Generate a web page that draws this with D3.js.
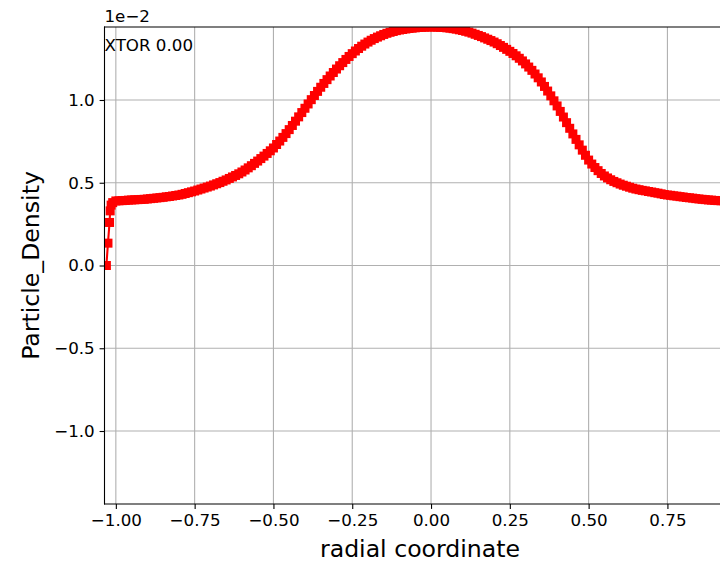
<!DOCTYPE html>
<html>
<head>
<meta charset="utf-8">
<script src="https://cdn.jsdelivr.net/npm/d3@7"></script>
<style>
  body { margin: 0; background: #ffffff; }
  svg { display: block; font-family: "DejaVu Sans", sans-serif; }
</style>
</head>
<body>
<div id="div1"></div>
<script>
//Datos (densidad en unidades de 1e-2)
var radio = [
  -1.030, -1.025, -1.020, -1.018, -1.015, -1.010,
  -1.00, -0.99, -0.98, -0.97, -0.96, -0.95, -0.94, -0.93, -0.92, -0.91,
  -0.90, -0.89, -0.88, -0.87, -0.86, -0.85, -0.84, -0.83, -0.82, -0.81,
  -0.80, -0.79, -0.78, -0.77, -0.76, -0.75, -0.74, -0.73, -0.72, -0.71,
  -0.70, -0.69, -0.68, -0.67, -0.66, -0.65, -0.64, -0.63, -0.62, -0.61,
  -0.60, -0.59, -0.58, -0.57, -0.56, -0.55, -0.54, -0.53, -0.52, -0.51,
  -0.50, -0.49, -0.48, -0.47, -0.46, -0.45, -0.44, -0.43, -0.42, -0.41,
  -0.40, -0.39, -0.38, -0.37, -0.36, -0.35, -0.34, -0.33, -0.32, -0.31,
  -0.30, -0.29, -0.28, -0.27, -0.26, -0.25, -0.24, -0.23, -0.22, -0.21,
  -0.20, -0.19, -0.18, -0.17, -0.16, -0.15, -0.14, -0.13, -0.12, -0.11,
  -0.10, -0.09, -0.08, -0.07, -0.06, -0.05, -0.04, -0.03, -0.02, -0.01,
  0.00, 0.01, 0.02, 0.03, 0.04, 0.05, 0.06, 0.07, 0.08, 0.09,
  0.10, 0.11, 0.12, 0.13, 0.14, 0.15, 0.16, 0.17, 0.18, 0.19,
  0.20, 0.21, 0.22, 0.23, 0.24, 0.25, 0.26, 0.27, 0.28, 0.29,
  0.30, 0.31, 0.32, 0.33, 0.34, 0.35, 0.36, 0.37, 0.38, 0.39,
  0.40, 0.41, 0.42, 0.43, 0.44, 0.45, 0.46, 0.47, 0.48, 0.49,
  0.50, 0.51, 0.52, 0.53, 0.54, 0.55, 0.56, 0.57, 0.58, 0.59,
  0.60, 0.61, 0.62, 0.63, 0.64, 0.65, 0.66, 0.67, 0.68, 0.69,
  0.70, 0.71, 0.72, 0.73, 0.74, 0.75, 0.76, 0.77, 0.78, 0.79,
  0.80, 0.81, 0.82, 0.83, 0.84, 0.85, 0.86, 0.87, 0.88, 0.89,
  0.90, 0.91, 0.92, 0.93, 0.94, 0.95, 0.96
]
var densidad = [
  0.000, 0.135, 0.260, 0.330, 0.365, 0.380,
  0.390, 0.391, 0.392, 0.393, 0.395, 0.396, 0.397, 0.398, 0.399, 0.400,
  0.402, 0.404, 0.406, 0.408, 0.410, 0.412, 0.415, 0.417, 0.420, 0.423,
  0.426, 0.430, 0.435, 0.440, 0.445, 0.450, 0.456, 0.462, 0.468, 0.474,
  0.480, 0.487, 0.494, 0.501, 0.509, 0.517, 0.526, 0.535, 0.544, 0.554,
  0.565, 0.577, 0.590, 0.603, 0.617, 0.631, 0.646, 0.661, 0.677, 0.693,
  0.710, 0.731, 0.752, 0.774, 0.797, 0.821, 0.846, 0.872, 0.898, 0.924,
  0.950, 0.976, 1.002, 1.027, 1.052, 1.077, 1.100, 1.123, 1.145, 1.166,
  1.187, 1.207, 1.226, 1.245, 1.263, 1.280, 1.296, 1.311, 1.325, 1.338,
  1.350, 1.361, 1.371, 1.380, 1.388, 1.396, 1.403, 1.409, 1.414, 1.419,
  1.423, 1.426, 1.429, 1.432, 1.434, 1.436, 1.438, 1.439, 1.440, 1.441,
  1.441, 1.441, 1.440, 1.439, 1.438, 1.436, 1.434, 1.431, 1.428, 1.424,
  1.420, 1.415, 1.410, 1.404, 1.397, 1.390, 1.383, 1.375, 1.367, 1.359,
  1.350, 1.340, 1.329, 1.318, 1.306, 1.294, 1.281, 1.267, 1.252, 1.236,
  1.218, 1.199, 1.179, 1.157, 1.134, 1.109, 1.082, 1.054, 1.025, 0.995,
  0.964, 0.931, 0.897, 0.863, 0.829, 0.795, 0.762, 0.729, 0.697, 0.666,
  0.637, 0.613, 0.592, 0.573, 0.556, 0.541, 0.529, 0.518, 0.508, 0.500,
  0.492, 0.485, 0.479, 0.473, 0.467, 0.462, 0.458, 0.454, 0.451, 0.447,
  0.444, 0.440, 0.437, 0.433, 0.429, 0.426, 0.424, 0.421, 0.419, 0.416,
  0.414, 0.411, 0.409, 0.407, 0.404, 0.402, 0.400, 0.398, 0.396, 0.395,
  0.393, 0.392, 0.391, 0.390, 0.390, 0.389, 0.389
]
var ticksX = [-1.00, -0.75, -0.50, -0.25, 0.00, 0.25, 0.50, 0.75]
var ticksY = [-1.0, -0.5, 0.0, 0.5, 1.0]
var tituloX = "radial coordinate"
var tituloY = "Particle_Density"
var textoOffset = "1e\u22122"
var textoTiempo = "XTOR 0.00"

//Crea Lienzo
var width = 720
var height = 562
var izq = 104.5, der = 735.5, arriba = 27, abajo = 504

var svg = d3.select("#div1")
            .append("svg")
            .attr("width", width)
            .attr("height", height)

//Escalas
var x = d3.scaleLinear()
          .domain([-1.036, 0.966])
          .range([izq, der])
var y = d3.scaleLinear()
          .domain([-1.441, 1.441])
          .range([abajo, arriba])

svg.append("clipPath")
   .attr("id", "zona")
   .append("rect")
   .attr("x", izq)
   .attr("y", arriba)
   .attr("width", der - izq)
   .attr("height", abajo - arriba)

//Rejilla
svg.append("g")
   .selectAll("line")
   .data(ticksX)
   .enter()
   .append("line")
   .attr("x1", d => x(d)).attr("x2", d => x(d))
   .attr("y1", arriba).attr("y2", abajo)
   .attr("stroke", "#b0b0b0")
   .attr("stroke-width", 1.1)
svg.append("g")
   .selectAll("line")
   .data(ticksY)
   .enter()
   .append("line")
   .attr("x1", izq).attr("x2", der)
   .attr("y1", d => y(d)).attr("y2", d => y(d))
   .attr("stroke", "#b0b0b0")
   .attr("stroke-width", 1.1)

//Pinta la curva
var puntos = radio.map((r, i) => [r, densidad[i]])
var capa = svg.append("g").attr("clip-path", "url(#zona)")

capa.append("path")
    .datum(puntos)
    .attr("d", d3.line().x(d => x(d[0])).y(d => y(d[1])))
    .attr("fill", "none")
    .attr("stroke", "#ff0000")
    .attr("stroke-width", 2.1)

var lado = 9
capa.selectAll("rect")
    .data(puntos)
    .enter()
    .append("rect")
    .attr("x", d => x(d[0]) - lado / 2)
    .attr("y", d => y(d[1]) - lado / 2)
    .attr("width", lado)
    .attr("height", lado)
    .attr("fill", "#ff0000")

//Ejes
var ejeX = d3.axisBottom(x)
             .tickValues(ticksX)
             .tickFormat(d3.format(".2f"))
             .tickSize(4.9)
             .tickPadding(4.9)
var ejeY = d3.axisLeft(y)
             .tickValues(ticksY)
             .tickFormat(d3.format(".1f"))
             .tickSize(4.9)
             .tickPadding(4.9)

svg.append("g")
   .attr("transform", `translate(0,${abajo})`)
   .call(ejeX)
svg.append("g")
   .attr("transform", `translate(${izq},0)`)
   .call(ejeY)

svg.selectAll(".domain").remove()
svg.selectAll(".tick line").attr("stroke", "#000").attr("stroke-width", 1.1)
svg.selectAll(".tick text")
   .attr("fill", "#000")
   .style("font-size", "16.7px")
   .style("font-family", "DejaVu Sans")

//Bordes
svg.append("g")
   .selectAll("line")
   .data([[izq, arriba, izq, abajo], [izq, abajo, der, abajo], [izq, arriba, der, arriba]])
   .enter()
   .append("line")
   .attr("x1", d => d[0]).attr("y1", d => d[1])
   .attr("x2", d => d[2]).attr("y2", d => d[3])
   .attr("stroke", "#000")
   .attr("stroke-width", 1.1)
   .attr("stroke-linecap", "square")

//Textos
svg.append("text")
   .attr("x", (izq + der) / 2)
   .attr("y", 557)
   .attr("text-anchor", "middle")
   .style("font-size", "23.6px")
   .text(tituloX)

svg.append("text")
   .attr("transform", `translate(39,${(arriba + abajo) / 2}) rotate(-90)`)
   .attr("text-anchor", "middle")
   .style("font-size", "23.6px")
   .text(tituloY)

svg.append("text")
   .attr("x", izq)
   .attr("y", 21.5)
   .style("font-size", "16.7px")
   .text(textoOffset)

svg.append("text")
   .attr("x", izq)
   .attr("y", 50.5)
   .style("font-size", "16.7px")
   .text(textoTiempo)
</script>
</body>
</html>
